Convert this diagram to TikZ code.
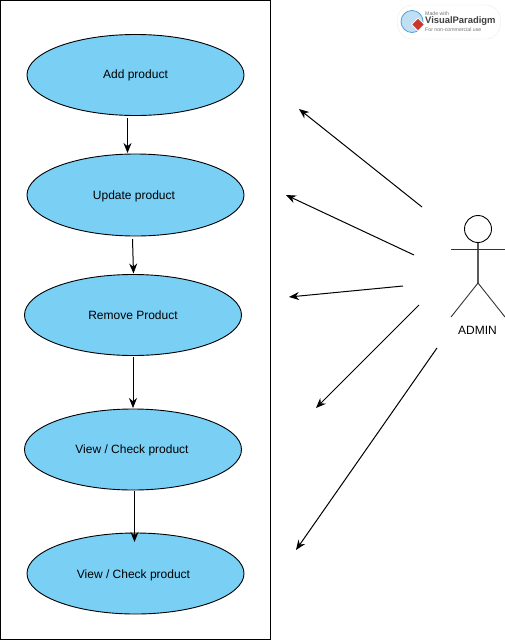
\documentclass[tikz,border=0pt]{standalone}
\usepackage{fontspec}
\setmainfont{Liberation Sans}
\usetikzlibrary{shapes.geometric,arrows.meta}
\definecolor{ucfill}{HTML}{7ACFF5}
\definecolor{globeblue}{HTML}{4FA3DC}
\definecolor{markred}{HTML}{C8372D}
\newcommand{\nudged}[3]{\raisebox{#2}[8.6pt][2.6pt]{\kern#1 #3}}
\tikzset{
  x=1pt,y=-1pt,
  usecase/.style={draw=black,fill=ucfill,ellipse,line width=0.9pt,inner sep=0pt,minimum width=217pt,minimum height=81pt,font=\fontsize{12}{14}\selectfont},
  flow/.style={draw=black,line width=1pt,-{Stealth[length=10pt,width=8pt]}},
  actorline/.style={draw=black!80,line width=0.9pt},
  logotiny/.style={anchor=west,inner sep=0pt,font=\fontsize{5.2}{6}\selectfont,text=black!55},
}
\begin{document}
\begin{tikzpicture}
\useasboundingbox (0,0) rectangle (505,640);
\node[draw=black,line width=0.9pt,minimum width=270pt,minimum height=639pt,inner sep=0pt] (frame) at (135.5,319.5) {};
\node[usecase] (add) at (135.5,75) {Add product};
\node[usecase,minimum height=82pt] (update) at (135.5,195) {\nudged{-3pt}{-1pt}{Update product}};
\node[usecase] (remove) at (133,315) {Remove Product};
\node[usecase] (view1) at (133,449.5) {\nudged{-2pt}{-1pt}{View / Check product}};
\node[usecase] (view2) at (135.5,573.5) {\nudged{-4pt}{-1.5pt}{View / Check product}};
% flow connectors
\coordinate (a1) at (127.5,118); \coordinate (a2) at (127.5,153);
\coordinate (b1) at (132.5,239); \coordinate (b2) at (133.5,273.5);
\coordinate (c1) at (133,357); \coordinate (c2) at (133,408);
\coordinate (d1) at (134.5,491); \coordinate (d2) at (134.5,542);
\draw[flow] (a1) -- (a2);
\draw[flow] (b1) -- (b2);
\draw[flow] (c1) -- (c2);
\draw[flow,line width=1.6pt] (d1) -- (d2);
% actor
\node[draw=black,circle,line width=0.9pt,minimum size=27pt,inner sep=0pt] (head) at (478,229) {};
\coordinate (hip) at (478,283);
\coordinate (armL) at (451,249); \coordinate (armR) at (505,249);
\coordinate (legL) at (451,317); \coordinate (legR) at (505,317);
\draw[actorline,line width=1.2pt,draw=black!65] (head.south) -- (hip);
\draw[actorline] (armL) -- (armR);
\draw[actorline] (legL) -- (hip) -- (legR);
\node[font=\fontsize{12}{14}\selectfont,inner sep=0pt] (admin) at (477.5,330) {ADMIN};
% association arrows
\coordinate (s1) at (422,207); \coordinate (e1) at (299,109);
\coordinate (s2) at (414,255); \coordinate (e2) at (286,195);
\coordinate (s3) at (403,286); \coordinate (e3) at (289,297);
\coordinate (s4) at (419,305); \coordinate (e4) at (316,408);
\coordinate (s5) at (437,348); \coordinate (e5) at (296,550);
\foreach \i in {1,...,5} { \draw[flow] (s\i) -- (e\i); }
% logo
\node[draw=black!8,fill=white,rounded corners=15pt,minimum width=103pt,minimum height=34pt,inner sep=0pt] (logo) at (449,22) {};
\node[circle,draw=globeblue,line width=0.8pt,fill=globeblue!35,minimum size=22pt,inner sep=0pt] (globe) at (412,21.5) {};
\node[diamond,draw=white,line width=0.8pt,fill=markred,minimum size=13pt,inner sep=0pt] (mark) at (418,24.5) {};
\node[logotiny] (made) at (425,13.5) {Made with};
\node[anchor=west,inner sep=0pt,font=\fontsize{9.4}{11}\bfseries\selectfont,text=black!75] (vp) at (425,21.5) {VisualParadigm};
\node[logotiny] (nc) at (425,30) {For non-commercial use};
\end{tikzpicture}
\end{document}
